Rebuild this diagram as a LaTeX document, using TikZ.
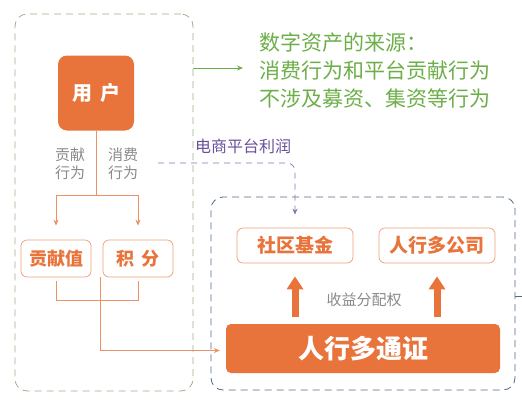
\documentclass[tikz,border=0pt]{standalone}
\usepackage{fontspec}
\setmainfont{Noto Sans CJK SC}
\usetikzlibrary{arrows.meta}

\definecolor{rxorange}{HTML}{E8743B}
\definecolor{rxgreen}{HTML}{6CAE48}
\definecolor{rxblue}{HTML}{52688A}
\definecolor{rxpurple}{HTML}{6A4F9C}
\definecolor{rxgray}{HTML}{8A8A8A}
\definecolor{rxframe}{HTML}{9CB184}

\tikzset{
  x=1pt, y=1pt,
  frame/.style={draw, dash pattern=on 7pt off 5pt, line width=0.8pt, rounded corners=12pt, inner sep=0pt},
  userbox/.style={fill=rxorange, rounded corners=9pt, minimum width=76pt, minimum height=75pt, text=white, font=\fontsize{20}{22}\selectfont\bfseries},
  valbox/.style={draw=rxorange!70, line width=0.7pt, rounded corners=6pt, minimum width=70pt, minimum height=37pt, text=rxorange, font=\fontsize{18}{20}\selectfont\bfseries},
  sharebox/.style={valbox, minimum width=116pt, minimum height=35pt, font=\fontsize{19}{21}\selectfont\bfseries},
  tokenbox/.style={fill=rxorange, rounded corners=5pt, minimum width=274pt, minimum height=49pt, text=white, font=\fontsize{26}{28}\selectfont\bfseries},
  lbl/.style={text=rxgray, align=left, font=\fontsize{15}{18}\selectfont},
  link/.style={draw=rxorange!80, line width=0.7pt},
  arr/.style={link, -{Stealth[length=6pt,width=5pt]}},
  bigarr/.style={draw=rxorange, line width=7pt, -{Triangle[length=13pt,width=16pt]}},
}

\begin{document}
\begin{tikzpicture}
\useasboundingbox (0,0) rectangle (522,-407);

% frames
\node[frame, draw=rxframe, minimum width=178pt, minimum height=377pt] (left) at (104,-202.5) {};
\node[frame, draw=rxblue, minimum width=304pt, minimum height=193pt] (right) at (363,-293.5) {};

% left part
\node[userbox] (user) at (96,-93) {用\hspace{8pt}户};
\node[lbl] (l1) at (70,-164) {贡献\\行为};
\node[lbl] (l2) at (123,-164) {消费\\行为};
\node[valbox] (contrib) at (56,-258.5) {贡献值};
\node[valbox] (points) at (138,-258.5) {积\hspace{7pt}分};

\draw[link] (user.south) -- ++(0,-65) coordinate (split);
\draw[arr] (split) -| ([yshift=14pt]contrib.north);
\draw[arr] (split) -| ([yshift=14pt]points.north);
\draw[link] ([yshift=-4pt]contrib.south) |- ([yshift=-23pt]points.south) -- ([yshift=-4pt]points.south);

% right part
\node[tokenbox] (token) at (363,-348.5) {人行多通证};
\node[sharebox] (fund) at (295,-245.5) {社区基金};
\node[sharebox] (corp) at (437,-245.5) {人行多公司};
\node[lbl] (right_lbl) at (364,-300) {收益分配权};

\draw[bigarr] ([yshift=7pt]token.north -| fund.south) -- ([yshift=-13pt]fund.south);
\draw[bigarr] ([yshift=7pt]token.north -| corp.south) -- ([yshift=-13pt]corp.south);

\coordinate (merge) at (100,-300);
\draw[link] (merge) -- (100,-277);
\draw[arr] (merge) |- ([xshift=-6pt,yshift=-2pt]token.west);

% source text
\node[text=rxgreen, anchor=west, align=left, inner sep=0pt, font=\fontsize{21}{28}\selectfont] (src) at (259,-70)
  {数字资产的来源：\\消费行为和平台贡献行为\\不涉及募资、集资等行为};
\draw[draw=rxgreen, line width=0.8pt, -{Stealth[length=6pt,width=5pt]}] (left.east |- 0,-68) -- (243,-68);

% profit
\node[text=rxpurple, anchor=west, inner sep=0pt, font=\fontsize{16}{18}\selectfont] (profit) at (195,-146) {电商平台利润};
\draw[draw=rxpurple!80, dash pattern=on 6pt off 5pt, line width=0.7pt, rounded corners=8pt, -{Stealth[length=6pt,width=5pt]}]
  (158,-163) -| ([yshift=13pt]fund.north);

\draw[draw=rxblue, line width=0.7pt] (right.east |- 0,-296) -- (522,-296);
\end{tikzpicture}
\end{document}
